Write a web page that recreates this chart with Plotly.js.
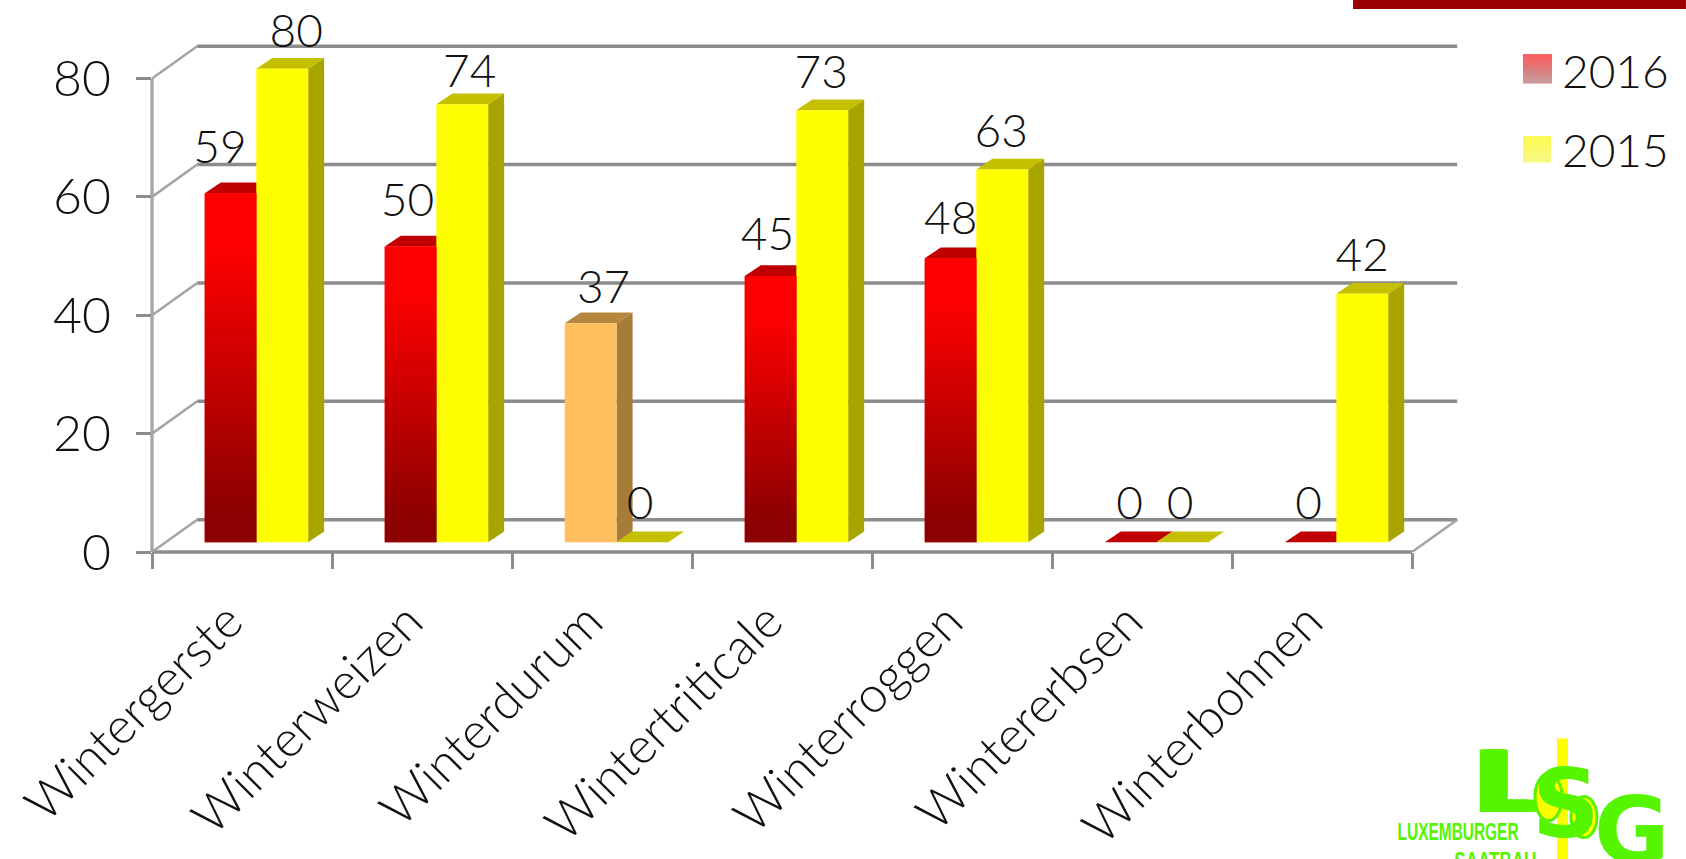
<!DOCTYPE html>
<html><head><meta charset="utf-8">
<script src="https://cdn.plot.ly/plotly-3.0.1.min.js"></script>
<style>html,body{margin:0;padding:0;background:#fff;overflow:hidden}#c{width:1686px;height:859px}</style>
</head><body><div id="c"></div>
<script>
const categories = ["Wintergerste","Winterweizen","Winterdurum","Wintertriticale","Winterroggen","Wintererbsen","Winterbohnen"];
const values2016 = [59,50,37,45,48,0,0];
const values2015 = [80,74,0,73,63,0,42];
const names = ["2016","2015"];
const yTicks = [0,20,40,60,80];
const front2016 = ["#FF0000","#FF0000","#FFBF5F","#FF0000","#FF0000","#FF0000","#FF0000"];
const top2016 = ["#C00000","#C00000","#B8873F","#C00000","#C00000","#C00000","#C00000"];
const side2016 = ["#A60000","#A60000","#A67C38","#A60000","#A60000","#A60000","#A60000"];
const gradient2016 = [true,true,false,true,true,true,true];
const labelNudgeX2016 = [-10,-3,12,-3,0,-1,-2];
const labelNudgeX2015 = [13,7,-2,-1,-1,-2,0];
const labelNudgeY2016 = [39,39,30,35,33,32,32];
const labelNudgeY2015 = [31,27,32,31,32,32,32];

const L=151.6, R=1460, Y0=551.6, PXU=5.914, CAT=180.06;
const W=1686, H=859, plotW=R-L;
const xMax=(R-L)/CAT-0.5, yMax=Y0/PXU;
const FONT="Lato, 'Noto Sans', sans-serif";
const GRID="#8C8C8C", DIAG="#A4A4A4";
const dX=45.2/CAT, dY=32.3/PXU;      // depth of the back wall
const bX=16/CAT, bY=10.75/PXU;       // depth of a bar
const base=9.68/PXU, bw=0.288;
const off16=-0.207, off15=0.0795;

const traces=[];
function poly(xs,ys,color,axis){traces.push({type:'scatter',mode:'none',x:xs,y:ys,fill:'toself',fillcolor:color,xaxis:axis,yaxis:'y',hoverinfo:'skip',showlegend:false});}
categories.forEach((c,i)=>{
  const v=values2016[i], x0=i+off16, x1=x0+bw, t=v+base;
  poly([x1,x1+bX,x1+bX,x1],[base,base+bY,t+bY,t],side2016[i],'x');
  poly([x0,x0+bX,x1+bX,x1],[t,t+bY,t+bY,t],top2016[i],'x');
  const w=values2015[i], a0=i+off15, a1=a0+bw, u=w+base;
  poly([a1,a1+bX,a1+bX,a1],[base,base+bY,u+bY,u],"#A8A500",'x');
  poly([a0,a0+bX,a1+bX,a1],[u,u+bY,u+bY,u],"#C4C000",'x');
});
traces.push({type:'bar',name:names[0],x:categories,y:values2016,base:base,width:bw,offset:off16,marker:{color:front2016,line:{width:0}},xaxis:'x2',yaxis:'y',hoverinfo:'x+y',showlegend:false});
traces.push({type:'bar',name:names[1],x:categories,y:values2015,base:base,width:bw,offset:off15,marker:{color:"#FFFF00",line:{width:0}},xaxis:'x2',yaxis:'y',hoverinfo:'x+y',showlegend:false});
categories.forEach((c,i)=>{
  const v=values2016[i]; if(!v||!gradient2016[i])return;
  const x0=i+off16,x1=x0+bw,t=v+base;
  traces.push({type:'scatter',mode:'none',x:[x0,x1,x1,x0,x0],y:[base,base,t,t,base],fill:'toself',
    fillgradient:{type:'vertical',colorscale:[[0,'#8B0000'],[0.08,'#8B0000'],[0.85,'#FF0000'],[1,'#FF0000']]},
    xaxis:'x3',yaxis:'y',hoverinfo:'skip',showlegend:false});
});
[[values2016,off16,labelNudgeX2016,labelNudgeY2016],[values2015,off15,labelNudgeX2015,labelNudgeY2015]].forEach(([vals,off,nx,ny])=>{
  traces.push({type:'scatter',mode:'text',x:vals.map((v,i)=>i+off+bw/2+nx[i]*1.075/CAT),y:vals.map((v,i)=>v+base+ny[i]*1.075/PXU),
    text:vals.map(String),textposition:'middle center',textfont:{family:FONT,size:46,color:'#111',weight:300},
    xaxis:'x3',yaxis:'y',hoverinfo:'skip',showlegend:false});
});

const shapes=[];
const line=(x0,y0,x1,y1,color,width)=>shapes.push({type:'line',xref:'x',yref:'y',x0,y0,x1,y1,layer:'below',line:{color,width}});
yTicks.forEach(v=>{
  line(-0.5+dX,v+dY,6.5+dX,v+dY,GRID,3.5);
  line(-0.5,v,-0.5+dX,v+dY,DIAG,2.5);
});
line(6.5,0,6.5+dX,dY,DIAG,2.5);

const px=x=>(x-L)/plotW, py=y=>1-y/Y0;
// axis lines sit on the plot edge: paper references keep them from being clipped
const xFrac=7/(xMax+0.5), yFrac=80/yMax;
shapes.push({type:'line',xref:'paper',yref:'paper',x0:0,x1:0,y0:0,y1:yFrac,layer:'below',line:{color:"#A8A8A8",width:3.5}});
shapes.push({type:'line',xref:'paper',yref:'paper',x0:0,x1:xFrac,y0:0,y1:0,layer:'below',line:{color:GRID,width:3.5}});

const pRect=(x0,y0,x1,y1,color)=>shapes.push({type:'rect',xref:'paper',yref:'paper',x0:px(x0),x1:px(x1),y0:py(y0),y1:py(y1),fillcolor:color,line:{width:0},layer:'above'});
pRect(1353,0,1686,9,"#9B0000");
const swatch16=["#FA5F5F","#F56666","#EE6C6C","#E67272","#DF7A7A","#D88282","#D28A8A","#CD9292","#CA9898"];
const swatch15=["#FAFA50","#FAFA58","#FAFA60","#F9F968","#F9F970","#F9F978","#F8F880","#F8F888"];
const strip=(cols,x0,x1,y0,y1)=>cols.forEach((col,k)=>pRect(x0,y0+(y1-y0)*k/cols.length,x1,y1,col));
strip(swatch16,1523,1552,54,83);
strip(swatch15,1523,1551,136,162);
// logo
const GREEN="#55F500";
pRect(1557,738,1568,859,"#FFFF00");
shapes.push({type:'circle',xref:'paper',yref:'paper',x0:px(1535),x1:px(1562),y0:py(773),y1:py(820),fillcolor:"#FFFF00",line:{color:GREEN,width:3},layer:'above'});
shapes.push({type:'circle',xref:'paper',yref:'paper',x0:px(1571),x1:px(1597),y0:py(796),y1:py(837),fillcolor:"#FFFF00",line:{color:GREEN,width:3},layer:'above'});

const ann=(text,x,y,size,color,opt={})=>({text,xref:'paper',yref:'paper',x:px(x),y:py(y),xanchor:opt.xa||'left',yanchor:'middle',showarrow:false,
  font:Object.assign({family:opt.family||FONT,size,color,weight:opt.weight||300},opt.shadow?{shadow:opt.shadow}:{})});
const annotations=[
  ann(names[0],1560,70,46,'#111'),
  ann(names[1],1560,149,46,'#111'),
  ann("L",1470,782,85,GREEN,{family:"'DejaVu Sans'",weight:700,shadow:`3px 0 0 ${GREEN},6px 0 0 ${GREEN},9px 0 0 ${GREEN},12px 0 0 ${GREEN}`}),
  ann("S",1530,804,94,GREEN,{family:"'DejaVu Sans'",weight:700}),
  ann("G",1592,831,92,GREEN,{family:"'DejaVu Sans'",weight:700}),
  ann("LUXEMBURGER",1458,831,23,GREEN,{family:"'Liberation Sans'",weight:700,xa:'center'}),
  ann("SAATBAU",1496,860,23,GREEN,{family:"'Liberation Sans'",weight:700,xa:'center'})
];

const layout={
  width:W,height:H,paper_bgcolor:'#fff',plot_bgcolor:'rgba(0,0,0,0)',showlegend:false,barmode:'overlay',
  margin:{l:L,r:W-R,t:0,b:H-Y0,pad:0},
  font:{family:FONT,color:'#111'},
  xaxis:{type:'linear',range:[-0.5,xMax],visible:false,fixedrange:true},
  xaxis2:{type:'category',overlaying:'x',anchor:'y',categoryorder:'array',categoryarray:categories,range:[-0.5,xMax],tickson:'boundaries',ticks:'outside',ticklen:16,tickwidth:3,tickcolor:GRID,
    tickangle:-45,ticklabelstandoff:29,ticklabelshift:-14,tickfont:{family:FONT,size:50,color:'#111',weight:300},showgrid:false,zeroline:false,showline:false,fixedrange:true},
  xaxis3:{type:'linear',overlaying:'x',anchor:'y',range:[-0.5,xMax],visible:false,fixedrange:true},
  yaxis:{range:[0,yMax],tickvals:yTicks,ticktext:yTicks.map(String),ticks:'outside',ticklen:15,tickwidth:3,tickcolor:GRID,ticklabelstandoff:15,
    tickfont:{family:FONT,size:50,color:'#111',weight:300},showgrid:false,zeroline:false,showline:false,fixedrange:true},
  shapes,annotations
};
const narrow={"LUXEMBURGER":121,"SAATBAU":82};
Plotly.newPlot('c',traces,layout,{displayModeBar:false,staticPlot:true}).then(gd=>{
  gd.querySelectorAll('.annotation-text').forEach(t=>{
    const w=narrow[t.textContent];
    if(w){t.setAttribute('textLength',w);t.setAttribute('lengthAdjust','spacingAndGlyphs');}
  });
});
</script></body></html>
